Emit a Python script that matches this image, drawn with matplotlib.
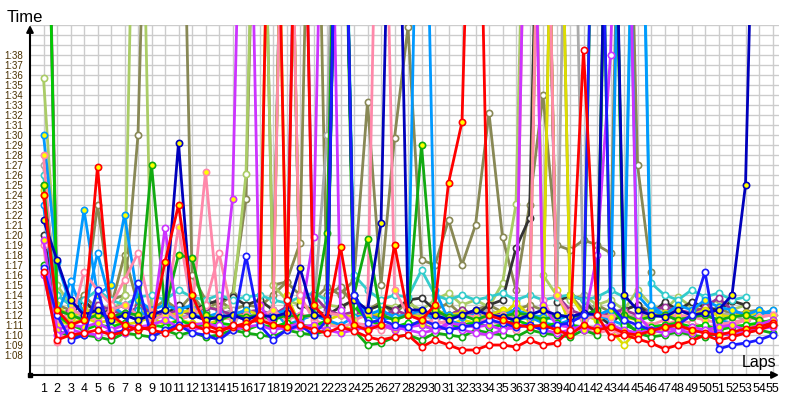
import matplotlib
matplotlib.use("Agg")
import matplotlib.pyplot as plt

plt.rcParams['font.family'] = ['Liberation Sans', 'DejaVu Sans']

laps_total = 55
OFF = 140  # laps far above the visible range (pit stops etc.)

# lap times in seconds, one list per driver (lap 1 first)
red_w = [76.3, 69.5, 70.0, 70.2, 70.5, 70.0, 70.3, 70.8, 70.5, 70.2,
         70.8, 71.0, 70.5, 70.2, 71.0, 70.8, 72.0, OFF, 73.5, 71.0,
         70.5, 70.2, 70.8, 70.4, 69.8, 69.5, 69.8, 70.0, 68.8, 69.5,
         69.0, 68.5, 68.5, 69.0, 69.0, 68.8, 69.5, 69.0, 69.2, 70.5,
         98.5, 72.0, 69.8, 70.0, 69.6, 69.2, 68.6, 69.0, 69.4, 70.0,
         69.5, 69.8, 70.2, 70.5, 71.0]
red_y = [84.0, 72.5, 71.0, 71.5, 86.8, 72.0, 71.0, 70.5, 70.8, 77.3,
         83.0, 74.0, 71.0, 70.5, 70.8, 71.2, 71.5, 71.0, 70.8, OFF,
         73.0, 71.5, 78.8, 71.0, 70.5, 71.0, 79.0, 72.0, 71.5, 73.0,
         85.2, 91.3, OFF, 72.0, 71.5, 71.0, 70.8, 71.0, 70.5, 70.0,
         71.0, 70.5, 70.8, 70.2, 70.0, 70.4, 70.8, 71.0, 70.5, 70.2,
         70.0, 70.3, 70.6, 70.8, 71.2]
blue_w = [76.7, 72.0, 69.5, 70.0, 74.5, 70.0, 70.5, 75.2, 69.8, 70.5,
          71.0, 70.2, 70.0, 69.5, 70.5, 77.9, 71.0, 69.5, 70.5, 71.0,
          70.0, 71.5, OFF, 74.0, 71.2, 71.5, 71.0, 70.8, 71.5, 71.0,
          70.5, 70.8, 71.0, 71.5, 71.2, 70.8, 71.0, 70.5, 71.0, 71.2,
          72.0, OFF, 73.0, 71.5, 71.0, 70.5, 70.8, 71.0, 72.0, 76.3,
          68.6, 69.0, 69.2, 69.5, 70.0]
navy_y = [81.5, 77.5, 73.5, 72.0, 72.5, 71.5, 72.0, 71.5, 72.0, 72.5,
          89.2, 72.0, 71.5, 71.8, 72.0, 71.5, 72.0, 71.8, 72.2, 76.7,
          72.0, 71.8, OFF, 73.5, 72.5, 81.2, OFF, 72.5, 72.5, 72.0,
          71.5, 72.0, 72.5, 72.0, 71.8, 71.5, 72.0, 72.5, 72.0, 71.8,
          72.2, 72.0, OFF, 74.0, 72.5, 72.0, 71.8, 72.5, 72.0, 72.2,
          72.5, 74.0, 85.0, OFF]
dodger_w = [83.0, 72.0, 75.4, 72.0, 78.2, 73.0, 72.0, 72.5, 71.5, 72.0,
            71.5, 72.0, 71.8, 72.2, 71.5, 72.0, 71.8, 72.5, 71.0, 71.5,
            72.0, 71.5, 71.0, 71.8, 72.0, 71.5, 71.8, 72.0, OFF, 74.5,
            71.5, 71.0, 71.2, 71.5, 71.0, 71.5, 71.8, 71.2, 71.0, 71.5,
            71.8, 72.0, 71.5, 71.0, OFF, 73.0, 72.0, 71.5, 71.8, 72.0,
            71.5, 71.2, 71.5, 72.0, 72.5]
dodger_y = [90.0, 77.3, 73.0, 82.5, 74.0, 75.0, 82.0, 73.5, 72.5, 73.0,
            72.5, 73.0, 72.0, 71.5, 72.0, 72.5, 71.0, 72.0, 72.5, 71.8,
            72.0, 71.5, OFF, 74.0, 72.0, 72.5, 71.8, 72.0, 72.5, 71.5,
            72.0, 71.8, 72.0, 71.5, 72.0, 72.5, 72.0, 71.8, 71.5, 72.0,
            71.5, 72.0, 72.5, OFF, 74.0, 72.5, 72.0, 73.0, 72.5, 73.5,
            72.8, 72.5, 72.0, 72.5, 72.0]
pink_w = [79.0, 69.3, 71.0, 76.3, 74.5, 73.0, 75.5, 78.2, 72.0, 72.5,
          71.5, 72.0, 73.0, 78.2, 72.0, 71.5, 72.0, 71.0, OFF, 74.0,
          71.5, 71.0, 70.8, 71.2, 71.0, 70.5, 71.0, 70.8, 71.2, 71.5,
          71.0, 70.8, 71.2, 71.5, 71.0, 70.5, OFF, 73.5, 71.0, 70.8,
          70.5, 70.2, 70.5, 70.0, 70.4, 70.8, 71.0, 71.5, 71.2, 70.8,
          71.0, 71.3, 71.5, 71.8, 72.0]
pink_y = [88.0, 71.0, 72.5, 72.0, 71.5, 72.5, 73.0, 72.0, 71.5, 72.0,
          80.8, 72.5, 86.3, 72.0, 71.5, 72.0, 71.8, 72.5, 71.5, 72.0,
          71.8, 72.2, 72.0, 71.5, 72.0, OFF, 74.5, 72.0, 71.5, 71.0,
          71.5, 72.0, 71.8, 71.5, 72.0, 71.5, 71.0, OFF, 74.0, 72.0,
          71.5, 72.0, 71.8, 72.2, 71.5, 71.0, 71.5, 72.0, 71.8, 71.5,
          71.2, 71.0, 71.5, 71.8, 72.0]
magenta_w = [76.0, 70.0, 70.5, 70.2, 70.0, 70.5, 70.2, 70.8, 70.5, 80.7,
             71.0, 70.5, 70.8, 71.0, 70.5, 70.8, 71.0, 70.5, 70.8, 71.2,
             79.8, OFF, 72.5, 70.8, 70.5, 71.0, 70.8, 70.5, 70.2, 70.5,
             70.8, 70.5, 70.2, 70.0, 70.5, 70.8, 71.0, 70.5, 70.2, 70.5,
             71.0, 78.0, 98.0, OFF, 72.0, 70.5, 70.2, 70.5, 70.8, 70.5,
             70.2, 70.0, 70.3, 70.6, 70.8]
magenta_y = [79.5, 70.5, 71.0, 70.8, 71.2, 70.5, 71.0, 70.8, 71.0, 71.5,
             70.8, 71.0, 71.2, 70.8, 83.6, OFF, 73.0, 71.0, 70.5, 70.8,
             71.0, 70.5, 70.2, 70.5, 70.8, 71.0, 70.5, 70.8, 71.0, 70.5,
             71.2, 71.0, 70.8, 71.0, 70.5, 71.0, OFF, 73.0, 71.0, 70.8,
             70.5, 70.8, 71.0, 70.5, 70.2, 70.5, 70.8, 70.5, 70.2, 70.5,
             70.8, 71.0, 70.5, 71.0, 71.5]
olive_a = [OFF, 74.0, 73.0, 72.5, 83.0, 73.5, 74.0, 90.0, OFF, OFF,
           OFF, 76.0, 73.5, 73.0, 74.0, 83.6, OFF, 75.0, 75.3, 74.0,
           73.5, 74.8, 74.0, 75.5, 93.3, 75.0, 89.7, 100.8, 77.5, 77.0,
           81.5, 77.0, 81.0, 92.2, 79.8, 74.5, 83.0, 94.0, 79.0, 78.5,
           79.5, 79.0, 78.2, OFF, 87.0, 76.3]
olive_b = [85.0, 73.0, 72.5, 74.0, 72.5, 72.8, 78.0, 73.0, 72.5, 73.5,
           72.5, 74.0, 72.3, 73.5, 72.5, 73.0, 72.8, 74.0, 75.3, 79.2,
           OFF, 74.0, 74.8, 73.0, 72.5, 73.3, 72.0, 73.5, 72.0, 72.5,
           73.2, 72.0, 72.5, 73.0, 72.3, 72.5, 73.0, 72.5, OFF, 74.0,
           72.5, 73.0, 72.3, 72.5, 73.0, 72.3, 72.0, 72.5, 73.2, 72.0,
           72.8, 72.0, 72.3, 72.5, 72.0]
yellowgreen_w = [95.7, 75.0, 73.0, 72.5, 73.5, 72.0, 74.0, OFF, 72.5, 72.0,
                 72.5, 72.0, 73.0, 72.5, 73.0, 86.1, OFF, 75.0, 73.5, 73.0,
                 72.5, 73.0, 72.8, 73.5, 72.5, 73.0, 72.8, 73.2, 72.5, 73.5,
                 74.2, 73.0, 73.5, 72.8, 75.2, 83.1, OFF, 76.0, 74.0, 73.5,
                 74.0, 73.0, 73.5, 72.5, 74.5, 73.0, 72.5, 73.8, 72.8, 73.0,
                 73.5, 72.5, 73.0]
yellow_w = [84.5, 71.5, 71.0, 71.8, 71.2, 71.5, 71.0, 71.3, 71.8, 71.0,
            71.5, 71.2, 71.0, 71.5, 71.8, 72.0, 71.5, OFF, 74.0, 71.0,
            70.8, 71.2, 71.0, 70.5, 70.8, 71.0, 70.5, 70.8, 71.2, 70.5,
            71.0, 71.5, 71.2, 71.8, 72.0, 73.2, 72.0, OFF, 74.5, 71.0,
            70.5, 70.8, 70.5, 69.0, 70.5, 70.2, 70.5, 70.8, 70.5, 70.3,
            70.5, 71.0, 70.8, 71.2, 71.3]
yellow_y = [84.0, 73.0, 71.7, 72.5, 72.0, 71.5, 72.0, 72.5, 72.0, 71.8,
            72.2, 72.5, 72.0, 71.8, 72.0, 72.5, 72.0, 71.5, OFF, 73.5,
            72.0, 71.5, 72.0, 71.8, 72.2, 72.0, 71.5, 72.0, 71.8, 72.5,
            72.0, 72.2, 71.8, 72.0, 72.5, 72.0, 71.5, 72.0, OFF, 74.0,
            72.0, 71.5, 72.0, 71.8, 71.5, 72.0, 72.2, 71.8, 72.0, 72.5,
            72.0, 71.8, 72.2, 72.0, 72.5]
darkgray_w = [80.0, 72.5, 72.0, 73.5, 72.0, 72.5, 73.0, 72.0, 72.5, 72.0,
              73.0, 72.5, 73.0, 73.5, 73.8, 73.0, 73.5, 72.5, OFF, 73.0,
              72.5, 72.0, 72.8, 73.5, 72.5, 73.0, 72.5, 73.5, 73.7, 72.5,
              72.0, 72.5, 72.0, 73.0, 73.5, 78.7, 81.7, OFF, 73.3, 74.0,
              73.5, 72.0, 71.0, 72.5, 73.0, 72.0, 73.3, 72.5, 73.3, 72.8,
              72.5, 73.4, 73.0]
gray_w = [87.0, 72.0, 71.5, 72.0, 71.8, 72.5, 72.0, 71.5, 72.0, 72.3,
          71.8, 72.0, 71.5, 72.0, 72.5, 72.0, 71.8, 72.2, 72.0, 71.5,
          72.0, 90.0, OFF, 74.0, 71.5, 72.0, 71.8, 72.2, 72.0, 71.5,
          72.0, 71.8, 72.2, 72.5, 72.0, 71.8, 72.0, 72.5, 72.0, OFF,
          74.0, 72.0, 71.5, 72.0, 71.8, 72.2, 72.0, 71.5, 72.0, 71.8,
          72.2, 72.0, 71.5, 72.0, 72.3]
green_w = [77.0, 70.5, 69.8, 70.0, 69.8, 69.5, 70.2, 70.0, 69.8, 70.5,
           70.0, 70.3, 69.8, 70.0, 70.5, 70.2, 70.0, 69.8, 70.5, 70.2,
           70.0, 70.5, OFF, 70.5, 69.0, 69.2, 69.8, 70.0, 69.5, 70.2,
           70.0, 69.8, 70.5, 70.2, 70.0, 69.8, 70.5, 70.2, 70.0, 69.8,
           70.5, 70.0, OFF, 71.5, 70.2, 69.8, 70.0, 70.3, 70.0, 69.8,
           70.2, 70.0, 70.3, 70.5, 70.2]
green_y = [85.0, 72.5, 72.0, 71.5, 72.0, 71.8, 72.2, 72.0, 87.0, 72.5,
           78.0, 77.7, 72.0, 71.5, 72.0, 71.8, 72.0, 71.5, 72.0, 71.8,
           72.0, 80.2, OFF, 74.0, 79.6, 72.0, 71.5, 72.0, 89.0, 72.5,
           71.8, 72.0, 71.5, 72.0, 71.8, 72.2, 72.0, 71.5, 72.0, 71.8,
           72.0, 72.5, OFF, 72.0, 71.5, 71.8, 72.0, 71.5, 71.8, 72.0,
           71.5, 71.8, 72.0, 71.5, 71.0]
cyan_w = [86.0, 74.0, 73.0, 73.5, 74.5, 73.5, 73.0, 73.8, 74.0, 73.5,
          74.5, 73.8, 73.5, 74.0, 73.5, 73.8, 74.0, 73.5, 73.2, 73.8,
          74.2, 73.5, OFF, 76.0, 74.5, 73.5, 74.0, 73.8, 76.5, 74.0,
          73.5, 74.0, 73.5, 73.8, 74.2, 73.5, 74.0, 73.5, 73.8, 74.0,
          73.5, 73.8, 74.5, 73.8, OFF, 75.2, 74.0, 73.5, 74.5, 73.8,
          74.2, 73.5, 73.8]
lime_w = [OFF, 72.0, 71.0, 70.5, 71.0, 70.8, 71.2, 70.5, 71.0, 70.8,
          71.5, 71.0, 70.8, 71.2, 71.0, 70.5, 71.0, 70.8, 71.2, 71.0,
          70.8, 71.5, OFF, 73.0, 71.5, 71.0, 70.8, 71.2, 71.0, 70.5,
          70.8, 71.0, 71.2, 70.8, 71.0, 71.5, 71.0, 70.8, 71.2, 71.0,
          70.8, OFF, 73.0, 71.0, 70.5, 70.8, 71.0, 71.2, 70.8, 71.0,
          70.5, 70.8, 71.0, 71.2, 71.5]
purple_w = [OFF, 72.0, 72.5, 72.0, 73.0, 72.5, 72.0, 72.8, 72.3, 72.0,
            72.5, 72.0, 72.8, 72.5, 72.0, 72.3, 72.5, 72.0, 72.8, OFF,
            74.0, 72.5, 72.0, 72.3, 72.0, 71.8, 72.5, 72.0, 71.8, 72.2,
            72.0, 72.5, 72.0, 71.8, 72.2, 72.0, 72.5, OFF, 74.0, 72.5,
            72.0, 71.8, 72.2, 72.5, 72.0, 72.5, 72.8, 72.5, 72.2, 72.8,
            73.7, 72.5, 72.0, 71.5, 71.0]

# (data, line colour, marker fill)
drivers = [
    (olive_a, '#888855', 'white'), (olive_b, '#8a8a50', 'white'),
    (yellowgreen_w, '#aacc66', 'white'), (gray_w, '#aaaaaa', 'white'),
    (darkgray_w, '#333333', 'white'), (cyan_w, '#33cccc', 'white'),
    (purple_w, '#993399', 'white'), (yellow_y, '#dddd00', 'yellow'),
    (yellow_w, '#dddd00', 'white'), (dodger_y, '#0099ff', 'yellow'),
    (dodger_w, '#0099ff', 'white'), (pink_w, '#ff88aa', 'white'),
    (pink_y, '#ff88aa', 'yellow'), (lime_w, '#00cc00', 'white'),
    (green_y, '#11aa11', 'yellow'), (green_w, '#11aa11', 'white'),
    (magenta_y, '#cc33ff', 'yellow'), (magenta_w, '#cc33ff', 'white'),
    (navy_y, '#0000bb', 'yellow'), (blue_w, '#1a1aff', 'white'),
    (red_y, '#ff0000', 'yellow'), (red_w, '#ff0000', 'white'),
]

y_min, y_max = 66, 101
label_secs = list(range(68, 99))

fig = plt.figure(figsize=(8, 4), dpi=100)
ax = fig.add_axes([30 / 800, 25 / 400, 749 / 800, 350 / 400])
ax.set_xlim(0, 749 / 13.5)
ax.set_ylim(y_min, y_max)

ax.set_xticks(range(1, laps_total + 1))
ax.set_xticklabels([str(i) for i in range(1, laps_total + 1)], fontsize=9)
ax.set_yticks(range(y_min, y_max + 1))
ax.set_yticklabels([("1:%02d" % (s - 60)) if s in label_secs else "" for s in range(y_min, y_max + 1)],
                   fontsize=7, color='#4a3000')
ax.tick_params(length=0)
ax.tick_params(axis='x', pad=6)
ax.tick_params(axis='y', pad=5)
ax.grid(True, color='#cccccc', linewidth=1)
ax.set_axisbelow(True)
for s in ax.spines.values():
    s.set_visible(False)

for data, col, fill in drivers:
    xs = list(range(1, len(data) + 1))
    ax.plot(xs, data, color=col, linewidth=2, marker='o', markersize=4.5,
            markerfacecolor=fill, markeredgecolor=col, markeredgewidth=1.2,
            solid_joinstyle='miter', zorder=3)

# axes arrows
ax.annotate('', xy=(0, 1.0), xytext=(0, 0), xycoords='axes fraction',
            arrowprops=dict(arrowstyle='-|>', color='black', lw=1.5,
                            mutation_scale=10, shrinkA=0, shrinkB=0), zorder=10)
ax.annotate('', xy=(1.0, 0), xytext=(0, 0), xycoords='axes fraction',
            arrowprops=dict(arrowstyle='-|>', color='black', lw=1.5,
                            mutation_scale=10, shrinkA=0, shrinkB=0), zorder=10)
ax.plot([0], [y_min], marker='s', color='black', markersize=3, clip_on=False, zorder=11)

fig.text(7 / 800, 1 - 22 / 400, "Time", fontsize=12, ha='left', va='baseline')
fig.text(776 / 800, 1 - 367 / 400, "Laps", fontsize=11.5, ha='right', va='baseline')

fig.savefig("out.png", dpi=100)
